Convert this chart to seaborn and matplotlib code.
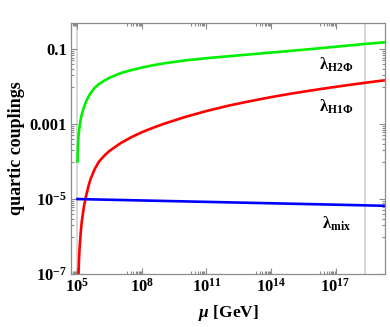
import numpy as np
import pandas as pd
import matplotlib
matplotlib.use("Agg")
import matplotlib.pyplot as plt
import matplotlib.ticker as mticker
import seaborn as sns

# ---------------- data ----------------
# t = log10(mu / 1e5 GeV); values given as log10(lambda)
green_t = [0.0, 0.02, 0.05, 0.1, 0.15, 0.2, 0.3, 0.4, 0.5, 0.6, 0.8, 1.0, 1.25, 1.5,
           2.0, 2.5, 3.0, 3.5, 4.0, 5.0, 6.0, 7.0, 8.0, 9.0, 10.0, 11.0, 12.0, 13.0,
           14.0, 14.3]
log_lam_H2Phi = [-4.0, -3.6, -3.3, -3.05, -2.88, -2.74, -2.55, -2.40, -2.28, -2.18,
                 -2.03, -1.93, -1.84, -1.76, -1.64, -1.56, -1.49, -1.43, -1.38, -1.30,
                 -1.24, -1.19, -1.14, -1.09, -1.04, -0.99, -0.935, -0.88, -0.83, -0.815]

red_t = [0.04, 0.06, 0.08, 0.1, 0.15, 0.2, 0.3, 0.4, 0.5, 0.6, 0.8, 1.0, 1.25, 1.5,
         2.0, 2.5, 3.0, 3.5, 4.0, 5.0, 6.0, 7.0, 8.0, 9.0, 10.0, 11.0, 12.0, 13.0,
         14.0, 14.3]
log_lam_H1Phi = [-7.2, -6.8, -6.5, -6.3, -5.9, -5.6, -5.2, -4.92, -4.68, -4.48,
                 -4.2, -4.0, -3.84, -3.71, -3.51, -3.35, -3.215, -3.10, -2.995, -2.81,
                 -2.65, -2.51, -2.39, -2.28, -2.18, -2.09, -2.005, -1.925, -1.85, -1.83]

blue_t = [0.0, 2.0, 4.0, 6.0, 8.0, 10.0, 12.0, 14.3]
log_lam_mix = [-5.0, -5.025, -5.05, -5.075, -5.10, -5.125, -5.15, -5.18]

series_names = ["H2Phi", "H1Phi", "mix"]
series_colors = ["#00f000", "#ff0000", "#0000ff"]
curve_labels = [r"$\mathrm{\lambda_{H2\Phi}}$", r"$\mathrm{\lambda_{H1\Phi}}$",
                r"$\mathrm{\lambda_{mix}}$"]
label_pos_mu = [1.1e17, 1.1e17, 1.1e17]
label_pos_lam = [0.038, 2.9e-3, 2.2e-6]

mu0 = 1e5
xtick_exps = [5, 8, 11, 14, 17]
ytick_vals = [1e-7, 1e-5, 1e-3, 1e-1]
ytick_labels = [r"$10^{-7}$", r"$10^{-5}$", "0.001", "0.1"]
vlines_mu = [1e5, 2.4e18]

# ---------------- styling ----------------
plt.rcParams["font.family"] = ["Liberation Serif", "DejaVu Serif"]
plt.rcParams["font.weight"] = "bold"
plt.rcParams["mathtext.fontset"] = "custom"
plt.rcParams["mathtext.rm"] = "Liberation Serif:bold"
plt.rcParams["mathtext.bf"] = "Liberation Serif:bold"
plt.rcParams["mathtext.it"] = "Liberation Serif:italic:bold"

frame_gray = "#8c8c8c"


def make(t, loglam, name):
    return pd.DataFrame({"mu": mu0 * 10.0 ** np.array(t),
                         "lam": 10.0 ** np.array(loglam), "s": name})


df = pd.concat([make(green_t, log_lam_H2Phi, series_names[0]),
                make(red_t, log_lam_H1Phi, series_names[1]),
                make(blue_t, log_lam_mix, series_names[2])], ignore_index=True)

fig = plt.figure(figsize=(3.9, 3.27), dpi=100)
ax = fig.add_axes([71 / 390, 1 - 274 / 327, 314 / 390, 251 / 327])

for v in vlines_mu:
    ax.axvline(v, color="#d4d4d4", lw=1.3, zorder=0)

sns.lineplot(data=df, x="mu", y="lam", hue="s", palette=dict(zip(series_names, series_colors)),
             hue_order=series_names, lw=1.9, legend=False, ax=ax, sort=False, estimator=None)

ax.set_xscale("log")
ax.set_yscale("log")
ax.set_xlim(5e4, 2e19)
ax.set_ylim(1e-7, 0.5)

# ticks
ax.xaxis.set_major_locator(mticker.FixedLocator([10.0 ** e for e in xtick_exps]))
ax.xaxis.set_major_formatter(mticker.FixedFormatter([r"$10^{%d}$" % e for e in xtick_exps]))
xminor = [m * 10.0 ** (e - 1) for e in xtick_exps for m in range(2, 10)]
ax.xaxis.set_minor_locator(mticker.FixedLocator(xminor))
ax.xaxis.set_minor_formatter(mticker.NullFormatter())

ax.yaxis.set_major_locator(mticker.FixedLocator(ytick_vals))
ax.yaxis.set_major_formatter(mticker.FixedFormatter(ytick_labels))
yminor = [m * v / 10 for v in ytick_vals for m in range(1, 10)]
yminor += [1.0]
ax.yaxis.set_minor_locator(mticker.FixedLocator(yminor))
ax.yaxis.set_minor_formatter(mticker.NullFormatter())

ax.tick_params(which="both", direction="in", top=True, right=True, color=frame_gray,
               width=0.8, labelsize=12, pad=3)
ax.tick_params(which="major", length=4)
ax.tick_params(which="minor", length=2)
for lab in ax.get_xticklabels() + ax.get_yticklabels():
    lab.set_fontweight("bold")

for sp in ax.spines.values():
    sp.set_color(frame_gray)
    sp.set_linewidth(0.9)

ax.set_xlabel(r"$\mathit{\mu}$ [GeV]", fontsize=12.5, fontweight="bold", labelpad=5)
ax.set_ylabel("quartic couplings", fontsize=13, fontweight="bold", labelpad=3)

for txt, xm, yl in zip(curve_labels, label_pos_mu, label_pos_lam):
    ax.text(xm, yl, txt, fontsize=12, ha="center", va="center", color="black")

fig.savefig("out.png", dpi=100)
